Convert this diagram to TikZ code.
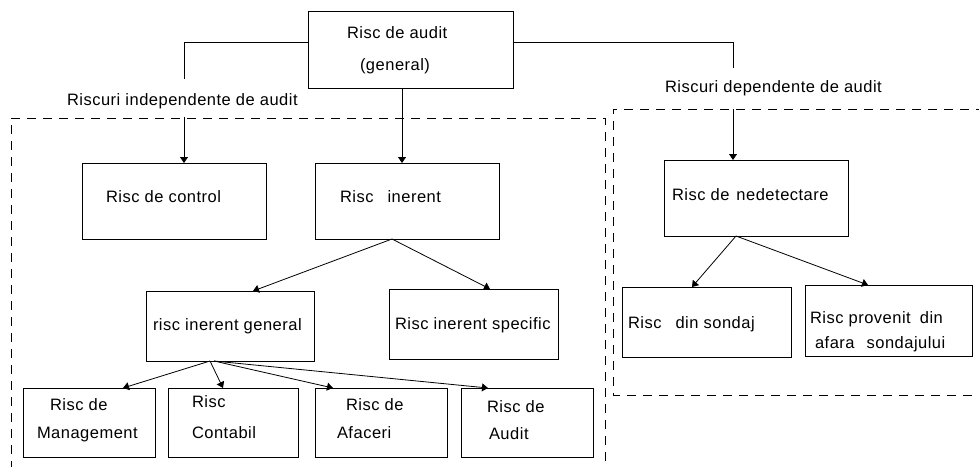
\documentclass[tikz,border=0pt]{standalone}
\usepackage{fontspec}
\setmainfont{Liberation Sans}[LetterSpace=3]
\usetikzlibrary{arrows.meta,calc}

\tikzset{
  box/.style={draw, line width=0.9pt, rectangle, inner sep=0pt, outer sep=0pt},
  txt/.style={inner sep=0pt, outer sep=0pt, anchor=base west, font=\fontsize{16.5}{19}\selectfont},
  link/.style={draw, line width=0.8pt},
  arr/.style={link, -{Triangle[width=8pt,length=6pt]}},
  zone/.style={draw, line width=0.9pt, dash pattern=on 9pt off 7pt}
}

\begin{document}
\begin{tikzpicture}[x=1pt, y=-1pt]
  \useasboundingbox (0,0) rectangle (979,466);

  % frames around the two groups of risks
  \draw[zone] (11,470) -- (11,118) -- (605,118) -- (605,470);
  \draw[zone] (985,109) -- (613,109) -- (613,395) -- (985,395);

  % boxes
  \node[box, minimum width=205pt, minimum height=77pt] (top) at (410.5,49.5) {};
  \node[box, minimum width=184pt, minimum height=76pt] (ctl) at (174,201) {};
  \node[box, minimum width=184pt, minimum height=76pt] (inh) at (407,201) {};
  \node[box, minimum width=184pt, minimum height=76pt] (ndt) at (756,198) {};
  \node[box, minimum width=168pt, minimum height=70pt] (gen) at (230,326) {};
  \node[box, minimum width=169pt, minimum height=70pt] (spc) at (473.5,324) {};
  \node[box, minimum width=169pt, minimum height=70pt] (snd) at (706.5,322) {};
  \node[box, minimum width=167pt, minimum height=71pt] (afr) at (888.5,320.5) {};
  \node[box, minimum width=132pt, minimum height=69pt] (mgt) at (89,422.5) {};
  \node[box, minimum width=130pt, minimum height=69pt] (cnt) at (233,422.5) {};
  \node[box, minimum width=132pt, minimum height=69pt] (afc) at (381,422.5) {};
  \node[box, minimum width=132pt, minimum height=69pt] (aud) at (527,422.5) {};

  % texts
  \node[txt] (top-a) at (347,38) {Risc de audit};
  \node[txt] (top-b) at (360,70) {(general)};
  \node[txt] (lindep) at (67,105) {Riscuri independente de audit};
  \node[txt] (ldep) at (665,92) {Riscuri dependente de audit};
  \node[txt] (ctl-t) at (106,202) {Risc de control};
  \node[txt] (inh-t) at (340,202) {Risc\hspace{14pt}inerent};
  \node[txt] (ndt-t) at (672,200) {Risc de\hspace{7pt}nedetectare};
  \node[txt] (gen-t) at (153,330) {risc inerent general};
  \node[txt] (spc-t) at (395,329) {Risc inerent specific};
  \node[txt] (snd-t) at (628,328) {Risc\hspace{14pt}din sondaj};
  \node[txt] (afr-a) at (810,323) {Risc provenit\hspace{4pt} din};
  \node[txt] (afr-b) at (815,348) {afara\hspace{12pt}sondajului};
  \node[txt] (mgt-a) at (50,410) {Risc de};
  \node[txt] (mgt-b) at (37,438) {Management};
  \node[txt] (cnt-a) at (192,407) {Risc};
  \node[txt] (cnt-b) at (192,438) {Contabil};
  \node[txt] (afc-a) at (346,410) {Risc de};
  \node[txt] (afc-b) at (337,438) {Afaceri};
  \node[txt] (aud-a) at (487,412) {Risc de};
  \node[txt] (aud-b) at (489,439) {Audit};

  % free ends of the branch lines
  \coordinate (indep-end) at (184,79);
  \coordinate (indep-start) at (184,117);
  \coordinate (dep-end) at (733,68);
  \coordinate (dep-start) at (733,109);

  % connectors
  \draw[link] ($(top.west)+(0,-7.5)$) -| (indep-end);
  \draw[link] ($(top.east)+(0,-7.5)$) -| (dep-end);
  \draw[arr] (indep-start) -- (indep-start |- ctl.north);
  \draw[arr] (dep-start) -- (dep-start |- ndt.north);
  \draw[arr] ($(top.south)+(-8.5,0)$) -- ($(inh.north)+(-5,0)$);

  \draw[arr] ($(inh.south)+(-15,0)$) -- ($(gen.north)+(23,0)$);
  \draw[arr] ($(inh.south)+(-15,0)$) -- ($(spc.north)+(16.5,0)$);

  \draw[arr] ($(ndt.south)+(-20,0)$) -- ($(snd.north)+(-14.5,0)$);
  \draw[arr] ($(ndt.south)+(-20,0)$) -- ($(afr.north)+(-20.5,0)$);

  \draw[arr] ($(gen.south)+(-20,0)$) -- ($(mgt.north)+(34,0)$);
  \draw[arr] ($(gen.south)+(-20,0)$) -- ($(cnt.north)+(-10,0)$);
  \draw[arr] ($(gen.south)+(-16,0)$) -- ($(afc.north)+(-48,0)$);
  \draw[arr] ($(gen.south)+(-16,0)$) -- ($(aud.north)+(-39,0)$);
\end{tikzpicture}
\end{document}
